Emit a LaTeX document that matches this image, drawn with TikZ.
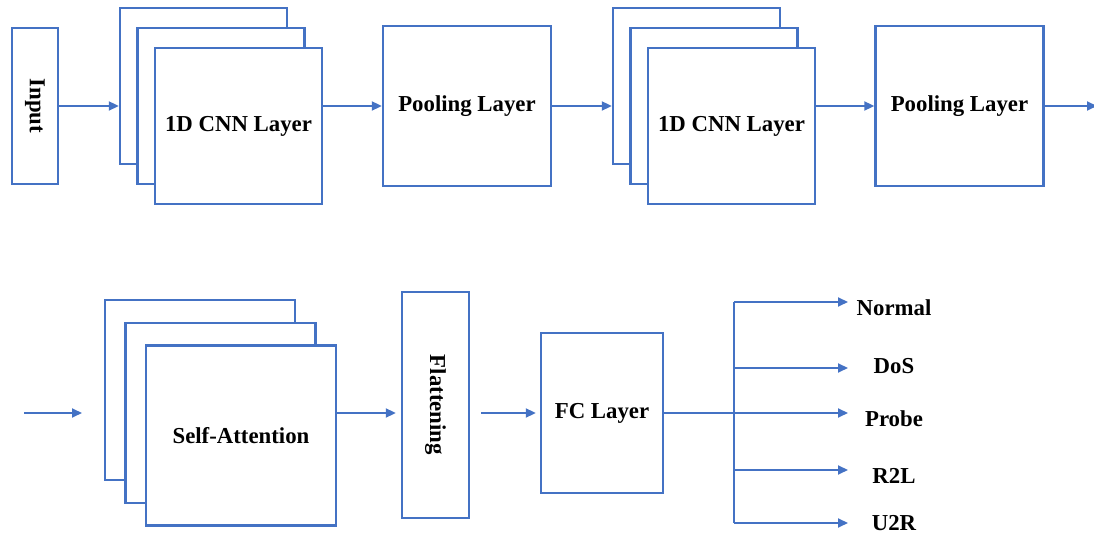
\documentclass[tikz,border=0pt]{standalone}
\usepackage{fontspec}
\setmainfont{Liberation Serif}
\usetikzlibrary{arrows.meta}
\definecolor{lineblue}{HTML}{4472C4}

\def\stackdx{17.5}

\begin{document}
\begin{tikzpicture}[x=0.5pt, y=-0.5pt, >={Triangle[length=5pt,width=4.5pt]}]
  \tikzstyle{every node}=[font=\fontsize{11.4}{13.7}\selectfont\bfseries]
  \tikzstyle{block}=[rectangle, draw=lineblue, line width=1.2pt, fill=white, inner sep=0pt]
  \tikzstyle{conv}=[block, minimum width=83.5pt, minimum height=78pt]
  \tikzstyle{pool}=[block, minimum width=84pt, minimum height=80pt]
  \tikzstyle{attn}=[block, minimum width=95pt, minimum height=90pt]
  \tikzstyle{flow}=[->, lineblue, line width=1pt]

  \useasboundingbox (0,0) rectangle (1094,534);

  % Top row: input, two conv stacks, two pooling layers
  \node[block, minimum width=23pt, minimum height=78pt] (in) at (35,106) {\rotatebox{-90}{Input}};
  \foreach \s/\x in {A/203.5, B/696.5} {
    \foreach \i in {0,1}
      \node[conv] (cnn\s-\i) at (\x+\stackdx*\i, 86+20*\i) {};
    \node[conv] (cnn\s-2) at (\x+2*\stackdx, 126) {1D CNN Layer};
  }
  \node[pool] (poolA) at (467,106) {Pooling Layer};
  \node[pool] (poolB) at (959.5,106) {Pooling Layer};
  \coordinate (outA) at (1097,106);

  \draw[flow] (in) -- (in -| cnnA-0.west);
  \draw[flow] (poolA -| cnnA-2.east) -- (poolA);
  \draw[flow] (poolA) -- (poolA -| cnnB-0.west);
  \draw[flow] (poolB -| cnnB-2.east) -- (poolB);
  \draw[flow] (poolB) -- (outA);

  % Bottom row: attention stack, flattening, FC layer
  \coordinate (inB) at (24,413);
  \coordinate (inBtip) at (82,413);
  \foreach \i in {0,1}
    \node[attn] (sa-\i) at (200+20.5*\i, 390+22.75*\i) {};
  \node[attn] (sa-2) at (241,435.5) {Self-Attention};
  \node[block, minimum width=33.5pt, minimum height=113pt] (flat) at (435.5,405) {\rotatebox{-90}{Flattening}};
  \node[block, minimum width=61pt, minimum height=80pt] (fc) at (602,413) {FC Layer};

  \draw[flow] (inB) -- (inBtip);
  \draw[flow, shorten >=2.5pt] (fc -| sa-2.east) -- (fc -| flat.west);
  \draw[flow, shorten <=5.5pt, shorten >=2pt] (fc -| flat.east) -- (fc);

  % Output classes
  \coordinate (fork) at (734,413);
  \foreach \lbl/\y/\dy in {Normal/302/-3, DoS/368/1, Probe/413/-3, R2L/470/-3, U2R/523/0} {
    \coordinate (t-\lbl) at (848,\y);
    \node (c-\lbl) at ([xshift=23pt,yshift=\dy pt]t-\lbl) {\lbl};
  }
  \draw[flow] (fc) -- (t-Probe);
  \draw[lineblue, line width=1pt] (fork |- t-Normal) -- (fork |- t-U2R);
  \foreach \lbl in {Normal, DoS, R2L, U2R}
    \draw[flow] (fork |- t-\lbl) -- (t-\lbl);
\end{tikzpicture}
\end{document}
